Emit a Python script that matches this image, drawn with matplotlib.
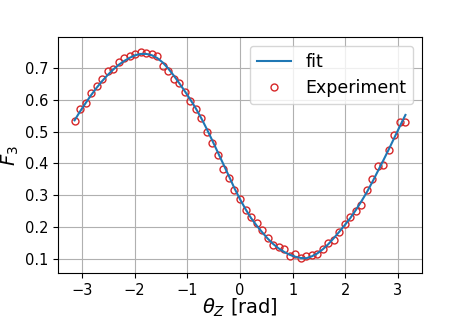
import matplotlib
matplotlib.use("Agg")
import matplotlib.pyplot as plt
import numpy as np

# 61 measurement angles, 6 degree steps from -180 to 180
theta_deg = list(range(-180, 181, 6))

# Experiment values
f3_exp = [
    0.534, 0.570, 0.590, 0.622, 0.644, 0.665, 0.691, 0.695, 0.717, 0.731,
    0.737, 0.742, 0.748, 0.745, 0.743, 0.738, 0.705, 0.690, 0.665, 0.653,
    0.623, 0.597, 0.570, 0.542, 0.500, 0.463, 0.428, 0.382, 0.353, 0.316,
    0.288, 0.254, 0.231, 0.215, 0.192, 0.165, 0.145, 0.139, 0.132, 0.110,
    0.116, 0.105, 0.110, 0.112, 0.117, 0.132, 0.150, 0.160, 0.184, 0.209,
    0.231, 0.251, 0.270, 0.316, 0.352, 0.393, 0.396, 0.443, 0.489, 0.529,
    0.531,
]

# Fit curve, read at the same angles
f3_fit = [
    0.535, 0.563, 0.589, 0.614, 0.637, 0.658, 0.677, 0.694, 0.709, 0.721,
    0.731, 0.739, 0.743, 0.743, 0.739, 0.730, 0.716, 0.697, 0.675, 0.651,
    0.626, 0.600, 0.572, 0.541, 0.507, 0.471, 0.434, 0.397, 0.360, 0.322,
    0.288, 0.257, 0.229, 0.206, 0.185, 0.165, 0.148, 0.134, 0.123, 0.114,
    0.108, 0.104, 0.103, 0.109, 0.118, 0.131, 0.147, 0.166, 0.186, 0.207,
    0.229, 0.254, 0.281, 0.310, 0.342, 0.376, 0.410, 0.445, 0.481, 0.517,
    0.552,
]

theta = np.deg2rad(theta_deg)

fig = plt.figure(figsize=(4.69, 3.18), dpi=100)
ax = fig.add_axes([0.1237, 0.1406, 0.7761, 0.743])

ax.plot(theta, f3_fit, color="#1f77b4", linewidth=1.5, label="fit", zorder=3)
ax.plot(theta, f3_exp, "o", mfc="none", mec="#d62728", ms=5, mew=1.0,
        label="Experiment", zorder=2)

ax.set_xlim(-3.456, 3.456)
ax.set_ylim(0.056, 0.796)
ax.set_xticks([-3, -2, -1, 0, 1, 2, 3])
ax.set_yticks([0.1, 0.2, 0.3, 0.4, 0.5, 0.6, 0.7])
ax.tick_params(labelsize=10.5)
ax.grid(True)
ax.set_xlabel(r"$\theta_Z$ [rad]", fontsize=14)
ax.set_ylabel(r"$F_3$", fontsize=14)
ax.xaxis.set_label_coords(0.5, -0.10)
ax.yaxis.set_label_coords(-0.103, 0.5)
ax.legend(loc="upper right", fontsize=12.5)

fig.savefig("out.png", dpi=100)
